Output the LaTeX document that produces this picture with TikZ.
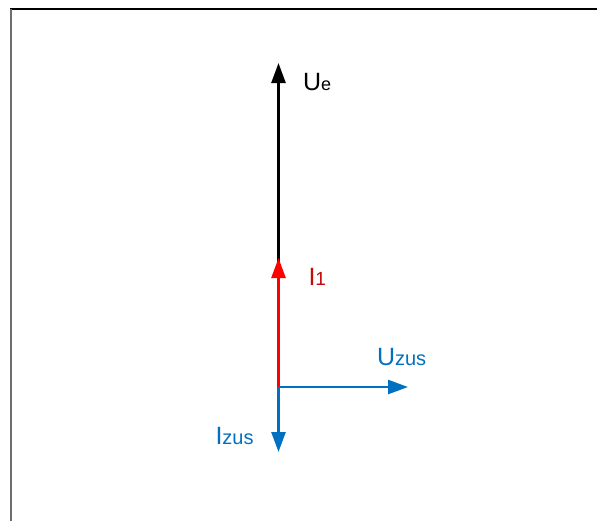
\documentclass[tikz,border=0pt]{standalone}
\usepackage{fontspec}
\setmainfont{Liberation Sans}
\usetikzlibrary{arrows.meta}
\definecolor{ublue}{RGB}{0,112,192}
\definecolor{ired}{RGB}{255,0,0}
\definecolor{itext}{RGB}{196,10,10}
\definecolor{framegray}{RGB}{110,110,110}
\tikzset{
  vec/.style={line width=2.6pt, -{Triangle[width=14pt,length=20pt]}},
  lbl/.style={anchor=base west, inner sep=0pt, outer sep=0pt, font=\fontsize{25}{25}\selectfont},
}
\newcommand{\sbs}[2]{{\fontsize{#1}{#1}\selectfont #2}}
\begin{document}
\begin{tikzpicture}[x=1pt,y=-1pt]
\useasboundingbox (0,0) rectangle (597,520);
\fill[white] (0,0) rectangle (597,520);
% frame
\draw[line width=1.4pt, black] (10,9) -- (600,9);
\draw[line width=2pt, framegray] (10.5,9) -- (10.5,525);
% vectors
\coordinate (O) at (278.5,387);
\coordinate (Ue) at (278.5,63);
\coordinate (I1) at (278.5,258);
\coordinate (Uz) at (408,387);
\coordinate (Iz) at (278.5,452);
\draw[vec, black] (O) -- (Ue);
\draw[vec, ired] (O) -- (I1);
\draw[vec, ublue] (O) -- (Uz);
\draw[vec, ublue] (O) -- (Iz);
% labels
\node[lbl, black] (lUe) at (303,90) {U\sbs{18}{e}};
\node[lbl, itext] (lI1) at (308.5,285) {I\sbs{19}{1}};
\node[lbl, ublue] (lUz) at (377,365) {U\sbs{20}{zus}};
\node[lbl, ublue] (lIz) at (215.5,444) {I\sbs{20}{zus}};
\end{tikzpicture}
\end{document}
